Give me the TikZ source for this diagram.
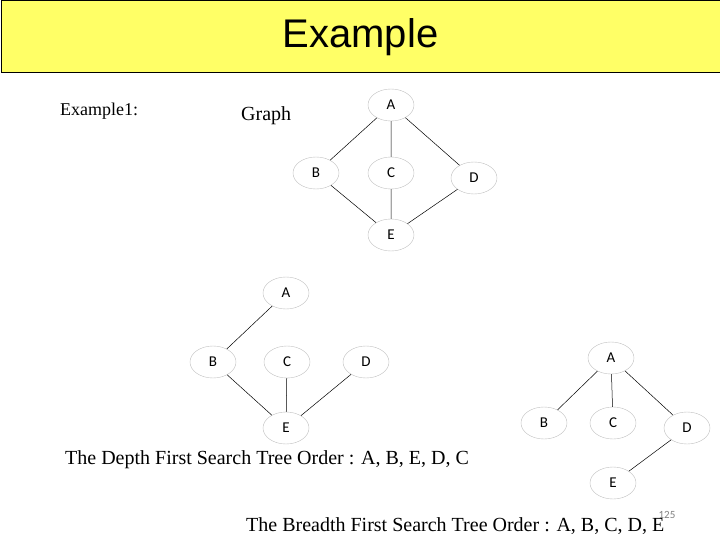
\documentclass[tikz,border=0pt]{standalone}
\usepackage{fontspec}
\setmainfont{Liberation Serif}
\newfontfamily\hdfont{Liberation Sans}
\newfontfamily\carfont{Carlito}
\usetikzlibrary{shapes.geometric}
\definecolor{band}{HTML}{FFFF66}
\begin{document}
\begin{tikzpicture}[x=1pt,y=-1pt,
 vx/.style={ellipse,draw=black!25,line width=0.4pt,minimum width=46pt,minimum height=32pt,inner sep=0pt,font=\carfont\fontsize{15}{15}\selectfont},
 ed/.style={line width=0.5pt},
 lbl/.style={font=\fontsize{20}{20}\selectfont,inner sep=0pt}]
\useasboundingbox (0,0) rectangle (720,540);
\node[draw=black,line width=1pt,fill=band,minimum width=719pt,minimum height=72pt,inner sep=0pt,anchor=north west,font=\hdfont\fontsize{40}{40}\selectfont] (title) at (0.5,0.5) {\raisebox{-4pt}{Example}};
\node[lbl,font=\fontsize{18}{18}\selectfont,anchor=west] (ex) at (60,111) {Example1:};
\node[lbl,anchor=west] (gr) at (241,116) {Graph};
% graph
\node[vx] (A1) at (391,105) {A};
\node[vx] (B1) at (316,173) {B};
\node[vx] (C1) at (391,173) {C};
\node[vx] (D1) at (474,178) {D};
\node[vx] (E1) at (391,235) {E};
\draw[ed] (A1)--(B1) (A1)--(C1) (A1)--(D1) (B1)--(E1) (C1)--(E1) (D1)--(E1);
% DFS tree
\node[vx] (A2) at (286,293) {A};
\node[vx] (B2) at (213,362) {B};
\node[vx] (C2) at (287,362) {C};
\node[vx] (D2) at (366,362) {D};
\node[vx] (E2) at (286,428) {E};
\draw[ed] (A2)--(B2) (B2)--(E2) (C2)--(E2) (D2)--(E2);
\node[lbl,anchor=west] (dfs) at (65,460) {The Depth First Search Tree Order : A, B, E, D, C};
% BFS tree
\node[vx] (A3) at (611,358) {A};
\node[vx] (B3) at (544,423) {B};
\node[vx] (C3) at (613,423) {C};
\node[vx] (D3) at (687,428) {D};
\node[vx] (E3) at (613,483) {E};
\draw[ed] (A3)--(B3) (A3)--(C3) (A3)--(D3) (D3)--(E3);
\node[lbl,anchor=west] (bfs) at (246,526) {The Breadth First Search Tree Order : A, B, C, D, E};
\node[font=\carfont\fontsize{11}{11}\selectfont,text=gray,inner sep=0pt] (pg) at (667,515) {125};
\end{tikzpicture}
\end{document}
